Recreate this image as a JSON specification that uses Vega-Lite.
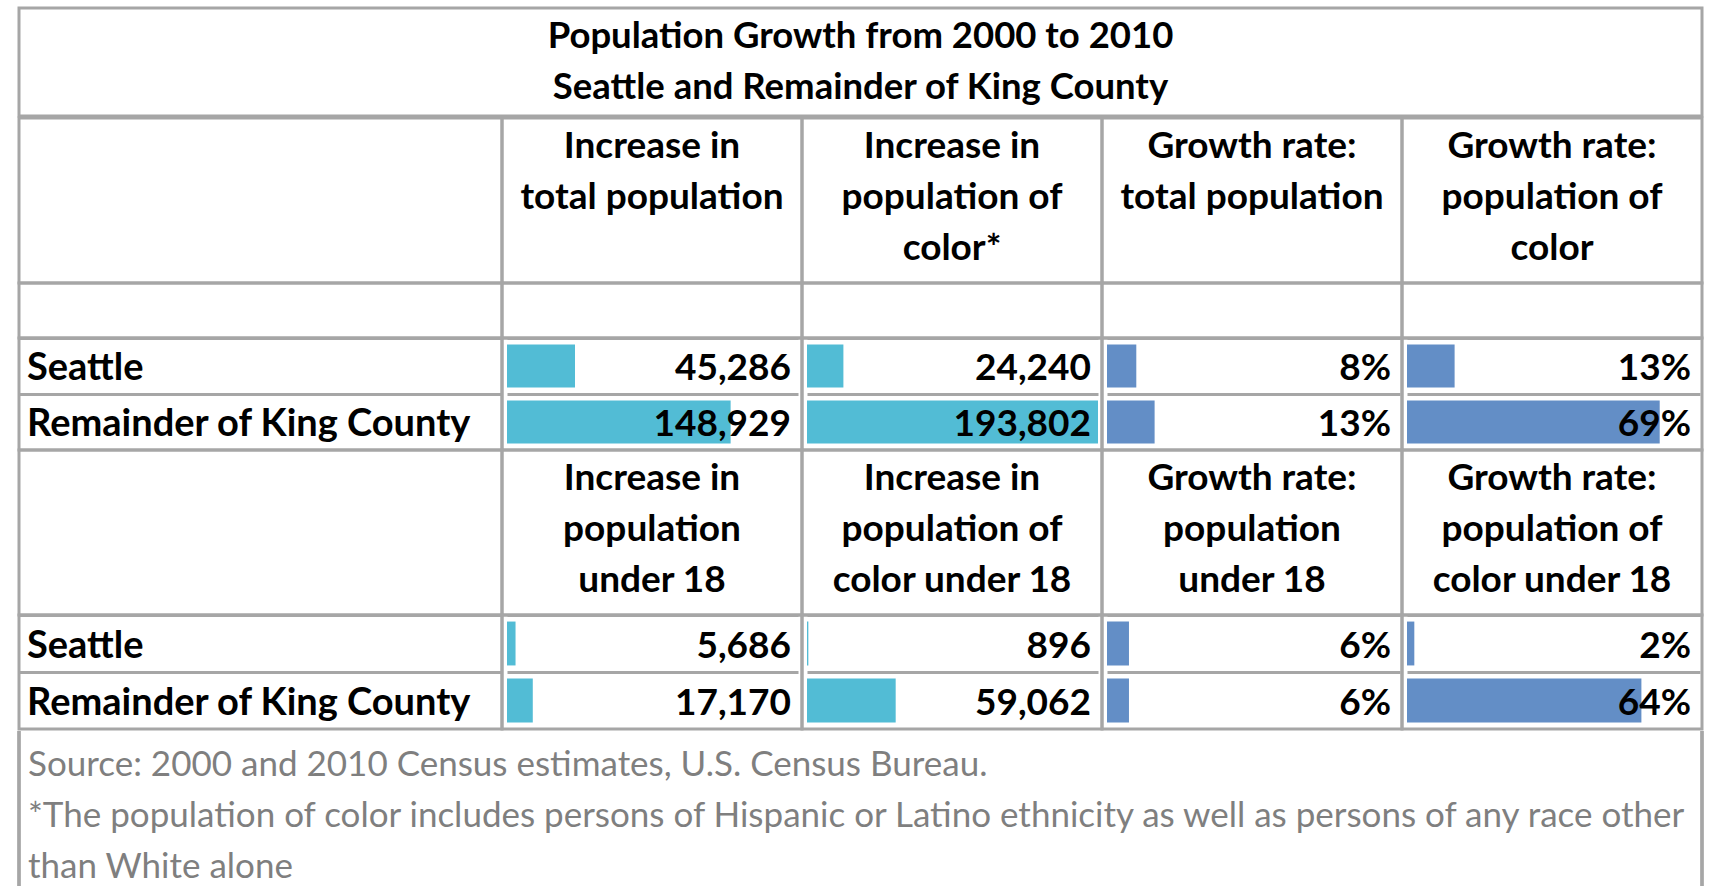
{
  "$schema": "https://vega.github.io/schema/vega-lite/v6.json",
  "background": "white",
  "padding": {"left": 17, "top": 6, "right": 0, "bottom": 0},
  "config": {
    "view": {"stroke": "#a6a6a6", "strokeWidth": 3},
    "font": "Lato",
    "text": {"font": "Lato", "color": "#000000"}
  },
  "datasets": {
    "titleLines": [
      {"line": 1, "text": "Population Growth from 2000 to 2010"},
      {"line": 2, "text": "Seattle and Remainder of King County"}
    ],
    "headers": [
      {"section": "all", "measure": "total", "line": 1, "text": "Increase in"},
      {"section": "all", "measure": "total", "line": 2, "text": "total population"},
      {"section": "all", "measure": "color", "line": 1, "text": "Increase in"},
      {"section": "all", "measure": "color", "line": 2, "text": "population of"},
      {"section": "all", "measure": "color", "line": 3, "text": "color*"},
      {"section": "all", "measure": "total_rate", "line": 1, "text": "Growth rate:"},
      {"section": "all", "measure": "total_rate", "line": 2, "text": "total population"},
      {"section": "all", "measure": "color_rate", "line": 1, "text": "Growth rate:"},
      {"section": "all", "measure": "color_rate", "line": 2, "text": "population of"},
      {"section": "all", "measure": "color_rate", "line": 3, "text": "color"},
      {"section": "under18", "measure": "total", "line": 1, "text": "Increase in"},
      {"section": "under18", "measure": "total", "line": 2, "text": "population"},
      {"section": "under18", "measure": "total", "line": 3, "text": "under 18"},
      {"section": "under18", "measure": "color", "line": 1, "text": "Increase in"},
      {"section": "under18", "measure": "color", "line": 2, "text": "population of"},
      {"section": "under18", "measure": "color", "line": 3, "text": "color under 18"},
      {"section": "under18", "measure": "total_rate", "line": 1, "text": "Growth rate:"},
      {"section": "under18", "measure": "total_rate", "line": 2, "text": "population"},
      {"section": "under18", "measure": "total_rate", "line": 3, "text": "under 18"},
      {"section": "under18", "measure": "color_rate", "line": 1, "text": "Growth rate:"},
      {"section": "under18", "measure": "color_rate", "line": 2, "text": "population of"},
      {"section": "under18", "measure": "color_rate", "line": 3, "text": "color under 18"}
    ],
    "values": [
      {"section": "all", "region": "Seattle", "measure": "total", "value": 45286},
      {"section": "all", "region": "Seattle", "measure": "color", "value": 24240},
      {"section": "all", "region": "Seattle", "measure": "total_rate", "value": 0.08},
      {"section": "all", "region": "Seattle", "measure": "color_rate", "value": 0.13},
      {"section": "all", "region": "Remainder of King County", "measure": "total", "value": 148929},
      {"section": "all", "region": "Remainder of King County", "measure": "color", "value": 193802},
      {"section": "all", "region": "Remainder of King County", "measure": "total_rate", "value": 0.13},
      {"section": "all", "region": "Remainder of King County", "measure": "color_rate", "value": 0.69},
      {"section": "under18", "region": "Seattle", "measure": "total", "value": 5686},
      {"section": "under18", "region": "Seattle", "measure": "color", "value": 896},
      {"section": "under18", "region": "Seattle", "measure": "total_rate", "value": 0.06},
      {"section": "under18", "region": "Seattle", "measure": "color_rate", "value": 0.02},
      {"section": "under18", "region": "Remainder of King County", "measure": "total", "value": 17170},
      {"section": "under18", "region": "Remainder of King County", "measure": "color", "value": 59062},
      {"section": "under18", "region": "Remainder of King County", "measure": "total_rate", "value": 0.06},
      {"section": "under18", "region": "Remainder of King County", "measure": "color_rate", "value": 0.64}
    ],
    "footerLines": [
      {"line": 1, "text": "Source: 2000 and 2010 Census estimates, U.S. Census Bureau."},
      {"line": 2, "text": "*The population of color includes persons of Hispanic or Latino ethnicity as well as persons of any race other"},
      {"line": 3, "text": "than White alone"}
    ]
  },
  "spacing": -3,
  "vconcat": [
    {
      "width": 1683, "height": 108,
      "data": {"name": "titleLines"},
      "mark": {"type": "text", "baseline": "alphabetic", "dy": 14.5, "fontSize": 36.5, "fontWeight": "bold"},
      "encoding": {
        "y": {"field": "line", "type": "ordinal", "scale": {"type": "band", "domain": [1, 2], "paddingInner": 0, "paddingOuter": 0.0588, "align": 0}, "axis": null},
        "text": {"field": "text"}
      }
    },
    {
      "columns": 5, "spacing": 0, "bounds": "flush", "align": "each",
      "concat": [
        {"width": 483, "height": 165, "data": {"name": "headers"}, "transform": [{"filter": "datum.section === 'all' && datum.measure === 'total'"}],
         "mark": {"type": "text"}, "encoding": {"y": {"field": "line", "type": "ordinal", "scale": {"type": "band"}, "axis": null}, "text": {"value": ""}}},
        {"width": 300, "height": 165, "data": {"name": "headers"}, "transform": [{"filter": "datum.section === 'all' && datum.measure === 'total'"}],
         "mark": {"type": "text", "baseline": "alphabetic", "dy": 14.5, "fontSize": 37, "fontWeight": "bold"},
         "encoding": {"y": {"field": "line", "type": "ordinal", "scale": {"type": "band", "domain": [1, 2, 3], "paddingInner": 0, "paddingOuter": 0.1176, "align": 0}, "axis": null}, "text": {"field": "text"}}},
        {"width": 300, "height": 165, "data": {"name": "headers"}, "transform": [{"filter": "datum.section === 'all' && datum.measure === 'color'"}],
         "mark": {"type": "text", "baseline": "alphabetic", "dy": 14.5, "fontSize": 37, "fontWeight": "bold"},
         "encoding": {"y": {"field": "line", "type": "ordinal", "scale": {"type": "band", "domain": [1, 2, 3], "paddingInner": 0, "paddingOuter": 0.1176, "align": 0}, "axis": null}, "text": {"field": "text"}}},
        {"width": 300, "height": 165, "data": {"name": "headers"}, "transform": [{"filter": "datum.section === 'all' && datum.measure === 'total_rate'"}],
         "mark": {"type": "text", "baseline": "alphabetic", "dy": 14.5, "fontSize": 37, "fontWeight": "bold"},
         "encoding": {"y": {"field": "line", "type": "ordinal", "scale": {"type": "band", "domain": [1, 2, 3], "paddingInner": 0, "paddingOuter": 0.1176, "align": 0}, "axis": null}, "text": {"field": "text"}}},
        {"width": 300, "height": 165, "data": {"name": "headers"}, "transform": [{"filter": "datum.section === 'all' && datum.measure === 'color_rate'"}],
         "mark": {"type": "text", "baseline": "alphabetic", "dy": 14.5, "fontSize": 37, "fontWeight": "bold"},
         "encoding": {"y": {"field": "line", "type": "ordinal", "scale": {"type": "band", "domain": [1, 2, 3], "paddingInner": 0, "paddingOuter": 0.1176, "align": 0}, "axis": null}, "text": {"field": "text"}}},

        {"width": 483, "height": 55, "data": {"name": "headers"}, "transform": [{"filter": "datum.section === 'all' && datum.measure === 'total' && datum.line === 1"}],
         "mark": {"type": "text"}, "encoding": {"y": {"field": "line", "type": "ordinal", "scale": {"type": "band"}, "axis": null}, "text": {"value": ""}}},
        {"width": 300, "height": 55, "data": {"name": "headers"}, "transform": [{"filter": "datum.section === 'all' && datum.measure === 'total' && datum.line === 1"}],
         "mark": {"type": "text"}, "encoding": {"y": {"field": "line", "type": "ordinal", "scale": {"type": "band"}, "axis": null}, "text": {"value": ""}}},
        {"width": 300, "height": 55, "data": {"name": "headers"}, "transform": [{"filter": "datum.section === 'all' && datum.measure === 'color' && datum.line === 1"}],
         "mark": {"type": "text"}, "encoding": {"y": {"field": "line", "type": "ordinal", "scale": {"type": "band"}, "axis": null}, "text": {"value": ""}}},
        {"width": 300, "height": 55, "data": {"name": "headers"}, "transform": [{"filter": "datum.section === 'all' && datum.measure === 'total_rate' && datum.line === 1"}],
         "mark": {"type": "text"}, "encoding": {"y": {"field": "line", "type": "ordinal", "scale": {"type": "band"}, "axis": null}, "text": {"value": ""}}},
        {"width": 300, "height": 55, "data": {"name": "headers"}, "transform": [{"filter": "datum.section === 'all' && datum.measure === 'color_rate' && datum.line === 1"}],
         "mark": {"type": "text"}, "encoding": {"y": {"field": "line", "type": "ordinal", "scale": {"type": "band"}, "axis": null}, "text": {"value": ""}}},

        {"width": 483, "height": 112, "data": {"name": "values"}, "transform": [{"filter": "datum.section === 'all' && datum.measure === 'total'"}],
         "mark": {"type": "text", "align": "left", "baseline": "alphabetic", "dx": 8, "dy": 14, "fontSize": 38, "fontWeight": "bold"},
         "encoding": {
           "y": {"field": "region", "type": "nominal", "sort": ["Seattle", "Remainder of King County"], "title": null, "scale": {"type": "band", "paddingInner": 0, "paddingOuter": 0}, "axis": {"grid": true, "gridColor": "#a6a6a6", "gridWidth": 3, "labels": false, "ticks": false, "domain": false, "bandPosition": 0}},
           "x": {"value": 0},
           "text": {"field": "region"}}},
        {"width": 300, "height": 112, "data": {"name": "values"}, "transform": [{"filter": "datum.section === 'all' && datum.measure === 'total'"}],
         "encoding": {"y": {"field": "region", "type": "nominal", "sort": ["Seattle", "Remainder of King County"], "title": null, "scale": {"type": "band", "paddingInner": 0, "paddingOuter": 0}, "axis": {"grid": true, "gridColor": "#a6a6a6", "gridWidth": 3, "labels": false, "ticks": false, "domain": false, "bandPosition": 0}}},
         "layer": [
           {"mark": {"type": "bar", "color": "#52bcd5", "height": {"band": 0.77}}, "encoding": {"x": {"field": "value", "type": "quantitative", "scale": {"domain": [0, 193802], "range": [5, 296]}, "axis": null}}},
           {"mark": {"type": "text", "align": "right", "baseline": "alphabetic", "dx": -11, "dy": 14, "fontSize": 37, "fontWeight": "bold"}, "encoding": {"x": {"value": "width"}, "text": {"field": "value", "type": "quantitative", "format": ","}}}
         ]},
        {"width": 300, "height": 112, "data": {"name": "values"}, "transform": [{"filter": "datum.section === 'all' && datum.measure === 'color'"}],
         "encoding": {"y": {"field": "region", "type": "nominal", "sort": ["Seattle", "Remainder of King County"], "title": null, "scale": {"type": "band", "paddingInner": 0, "paddingOuter": 0}, "axis": {"grid": true, "gridColor": "#a6a6a6", "gridWidth": 3, "labels": false, "ticks": false, "domain": false, "bandPosition": 0}}},
         "layer": [
           {"mark": {"type": "bar", "color": "#52bcd5", "height": {"band": 0.77}}, "encoding": {"x": {"field": "value", "type": "quantitative", "scale": {"domain": [0, 193802], "range": [5, 296]}, "axis": null}}},
           {"mark": {"type": "text", "align": "right", "baseline": "alphabetic", "dx": -11, "dy": 14, "fontSize": 37, "fontWeight": "bold"}, "encoding": {"x": {"value": "width"}, "text": {"field": "value", "type": "quantitative", "format": ","}}}
         ]},
        {"width": 300, "height": 112, "data": {"name": "values"}, "transform": [{"filter": "datum.section === 'all' && datum.measure === 'total_rate'"}],
         "encoding": {"y": {"field": "region", "type": "nominal", "sort": ["Seattle", "Remainder of King County"], "title": null, "scale": {"type": "band", "paddingInner": 0, "paddingOuter": 0}, "axis": {"grid": true, "gridColor": "#a6a6a6", "gridWidth": 3, "labels": false, "ticks": false, "domain": false, "bandPosition": 0}}},
         "layer": [
           {"mark": {"type": "bar", "color": "#638ec6", "height": {"band": 0.77}}, "encoding": {"x": {"field": "value", "type": "quantitative", "scale": {"domain": [0, 0.8], "range": [5, 298]}, "axis": null}}},
           {"mark": {"type": "text", "align": "right", "baseline": "alphabetic", "dx": -11, "dy": 14, "fontSize": 37, "fontWeight": "bold"}, "encoding": {"x": {"value": "width"}, "text": {"field": "value", "type": "quantitative", "format": ".0%"}}}
         ]},
        {"width": 300, "height": 112, "data": {"name": "values"}, "transform": [{"filter": "datum.section === 'all' && datum.measure === 'color_rate'"}],
         "encoding": {"y": {"field": "region", "type": "nominal", "sort": ["Seattle", "Remainder of King County"], "title": null, "scale": {"type": "band", "paddingInner": 0, "paddingOuter": 0}, "axis": {"grid": true, "gridColor": "#a6a6a6", "gridWidth": 3, "labels": false, "ticks": false, "domain": false, "bandPosition": 0}}},
         "layer": [
           {"mark": {"type": "bar", "color": "#638ec6", "height": {"band": 0.77}}, "encoding": {"x": {"field": "value", "type": "quantitative", "scale": {"domain": [0, 0.8], "range": [5, 298]}, "axis": null}}},
           {"mark": {"type": "text", "align": "right", "baseline": "alphabetic", "dx": -11, "dy": 14, "fontSize": 37, "fontWeight": "bold"}, "encoding": {"x": {"value": "width"}, "text": {"field": "value", "type": "quantitative", "format": ".0%"}}}
         ]},

        {"width": 483, "height": 165, "data": {"name": "headers"}, "transform": [{"filter": "datum.section === 'under18' && datum.measure === 'total'"}],
         "mark": {"type": "text"}, "encoding": {"y": {"field": "line", "type": "ordinal", "scale": {"type": "band"}, "axis": null}, "text": {"value": ""}}},
        {"width": 300, "height": 165, "data": {"name": "headers"}, "transform": [{"filter": "datum.section === 'under18' && datum.measure === 'total'"}],
         "mark": {"type": "text", "baseline": "alphabetic", "dy": 14.5, "fontSize": 37, "fontWeight": "bold"},
         "encoding": {"y": {"field": "line", "type": "ordinal", "scale": {"type": "band", "domain": [1, 2, 3], "paddingInner": 0, "paddingOuter": 0.1176, "align": 0}, "axis": null}, "text": {"field": "text"}}},
        {"width": 300, "height": 165, "data": {"name": "headers"}, "transform": [{"filter": "datum.section === 'under18' && datum.measure === 'color'"}],
         "mark": {"type": "text", "baseline": "alphabetic", "dy": 14.5, "fontSize": 37, "fontWeight": "bold"},
         "encoding": {"y": {"field": "line", "type": "ordinal", "scale": {"type": "band", "domain": [1, 2, 3], "paddingInner": 0, "paddingOuter": 0.1176, "align": 0}, "axis": null}, "text": {"field": "text"}}},
        {"width": 300, "height": 165, "data": {"name": "headers"}, "transform": [{"filter": "datum.section === 'under18' && datum.measure === 'total_rate'"}],
         "mark": {"type": "text", "baseline": "alphabetic", "dy": 14.5, "fontSize": 37, "fontWeight": "bold"},
         "encoding": {"y": {"field": "line", "type": "ordinal", "scale": {"type": "band", "domain": [1, 2, 3], "paddingInner": 0, "paddingOuter": 0.1176, "align": 0}, "axis": null}, "text": {"field": "text"}}},
        {"width": 300, "height": 165, "data": {"name": "headers"}, "transform": [{"filter": "datum.section === 'under18' && datum.measure === 'color_rate'"}],
         "mark": {"type": "text", "baseline": "alphabetic", "dy": 14.5, "fontSize": 37, "fontWeight": "bold"},
         "encoding": {"y": {"field": "line", "type": "ordinal", "scale": {"type": "band", "domain": [1, 2, 3], "paddingInner": 0, "paddingOuter": 0.1176, "align": 0}, "axis": null}, "text": {"field": "text"}}},

        {"width": 483, "height": 114, "data": {"name": "values"}, "transform": [{"filter": "datum.section === 'under18' && datum.measure === 'total'"}],
         "mark": {"type": "text", "align": "left", "baseline": "alphabetic", "dx": 8, "dy": 14, "fontSize": 38, "fontWeight": "bold"},
         "encoding": {
           "y": {"field": "region", "type": "nominal", "sort": ["Seattle", "Remainder of King County"], "title": null, "scale": {"type": "band", "paddingInner": 0, "paddingOuter": 0}, "axis": {"grid": true, "gridColor": "#a6a6a6", "gridWidth": 3, "labels": false, "ticks": false, "domain": false, "bandPosition": 0}},
           "x": {"value": 0},
           "text": {"field": "region"}}},
        {"width": 300, "height": 114, "data": {"name": "values"}, "transform": [{"filter": "datum.section === 'under18' && datum.measure === 'total'"}],
         "encoding": {"y": {"field": "region", "type": "nominal", "sort": ["Seattle", "Remainder of King County"], "title": null, "scale": {"type": "band", "paddingInner": 0, "paddingOuter": 0}, "axis": {"grid": true, "gridColor": "#a6a6a6", "gridWidth": 3, "labels": false, "ticks": false, "domain": false, "bandPosition": 0}}},
         "layer": [
           {"mark": {"type": "bar", "color": "#52bcd5", "height": {"band": 0.77}}, "encoding": {"x": {"field": "value", "type": "quantitative", "scale": {"domain": [0, 193802], "range": [5, 296]}, "axis": null}}},
           {"mark": {"type": "text", "align": "right", "baseline": "alphabetic", "dx": -11, "dy": 14, "fontSize": 37, "fontWeight": "bold"}, "encoding": {"x": {"value": "width"}, "text": {"field": "value", "type": "quantitative", "format": ","}}}
         ]},
        {"width": 300, "height": 114, "data": {"name": "values"}, "transform": [{"filter": "datum.section === 'under18' && datum.measure === 'color'"}],
         "encoding": {"y": {"field": "region", "type": "nominal", "sort": ["Seattle", "Remainder of King County"], "title": null, "scale": {"type": "band", "paddingInner": 0, "paddingOuter": 0}, "axis": {"grid": true, "gridColor": "#a6a6a6", "gridWidth": 3, "labels": false, "ticks": false, "domain": false, "bandPosition": 0}}},
         "layer": [
           {"mark": {"type": "bar", "color": "#52bcd5", "height": {"band": 0.77}}, "encoding": {"x": {"field": "value", "type": "quantitative", "scale": {"domain": [0, 193802], "range": [5, 296]}, "axis": null}}},
           {"mark": {"type": "text", "align": "right", "baseline": "alphabetic", "dx": -11, "dy": 14, "fontSize": 37, "fontWeight": "bold"}, "encoding": {"x": {"value": "width"}, "text": {"field": "value", "type": "quantitative", "format": ","}}}
         ]},
        {"width": 300, "height": 114, "data": {"name": "values"}, "transform": [{"filter": "datum.section === 'under18' && datum.measure === 'total_rate'"}],
         "encoding": {"y": {"field": "region", "type": "nominal", "sort": ["Seattle", "Remainder of King County"], "title": null, "scale": {"type": "band", "paddingInner": 0, "paddingOuter": 0}, "axis": {"grid": true, "gridColor": "#a6a6a6", "gridWidth": 3, "labels": false, "ticks": false, "domain": false, "bandPosition": 0}}},
         "layer": [
           {"mark": {"type": "bar", "color": "#638ec6", "height": {"band": 0.77}}, "encoding": {"x": {"field": "value", "type": "quantitative", "scale": {"domain": [0, 0.8], "range": [5, 298]}, "axis": null}}},
           {"mark": {"type": "text", "align": "right", "baseline": "alphabetic", "dx": -11, "dy": 14, "fontSize": 37, "fontWeight": "bold"}, "encoding": {"x": {"value": "width"}, "text": {"field": "value", "type": "quantitative", "format": ".0%"}}}
         ]},
        {"width": 300, "height": 114, "data": {"name": "values"}, "transform": [{"filter": "datum.section === 'under18' && datum.measure === 'color_rate'"}],
         "encoding": {"y": {"field": "region", "type": "nominal", "sort": ["Seattle", "Remainder of King County"], "title": null, "scale": {"type": "band", "paddingInner": 0, "paddingOuter": 0}, "axis": {"grid": true, "gridColor": "#a6a6a6", "gridWidth": 3, "labels": false, "ticks": false, "domain": false, "bandPosition": 0}}},
         "layer": [
           {"mark": {"type": "bar", "color": "#638ec6", "height": {"band": 0.77}}, "encoding": {"x": {"field": "value", "type": "quantitative", "scale": {"domain": [0, 0.8], "range": [5, 298]}, "axis": null}}},
           {"mark": {"type": "text", "align": "right", "baseline": "alphabetic", "dx": -11, "dy": 14, "fontSize": 37, "fontWeight": "bold"}, "encoding": {"x": {"value": "width"}, "text": {"field": "value", "type": "quantitative", "format": ".0%"}}}
         ]}
      ]
    },
    {
      "width": 1683, "height": 161,
      "view": {"stroke": null},
      "data": {"name": "footerLines"},
      "layer": [
        {
          "mark": {"type": "text", "align": "left", "baseline": "alphabetic", "dx": 9, "dy": 19.5, "fontSize": 35, "color": "#7f7f7f"},
          "encoding": {
            "y": {"field": "line", "type": "ordinal", "scale": {"type": "band", "domain": [1, 2, 3], "paddingInner": 0, "paddingOuter": 0.078, "align": 0}, "axis": null},
            "x": {"value": 0},
            "text": {"field": "text"}
          }
        },
        {"mark": {"type": "rule", "color": "#a6a6a6", "strokeWidth": 3}, "encoding": {"x": {"value": 0}}},
        {"mark": {"type": "rule", "color": "#a6a6a6", "strokeWidth": 3}, "encoding": {"x": {"value": "width"}}}
      ]
    }
  ]
}
